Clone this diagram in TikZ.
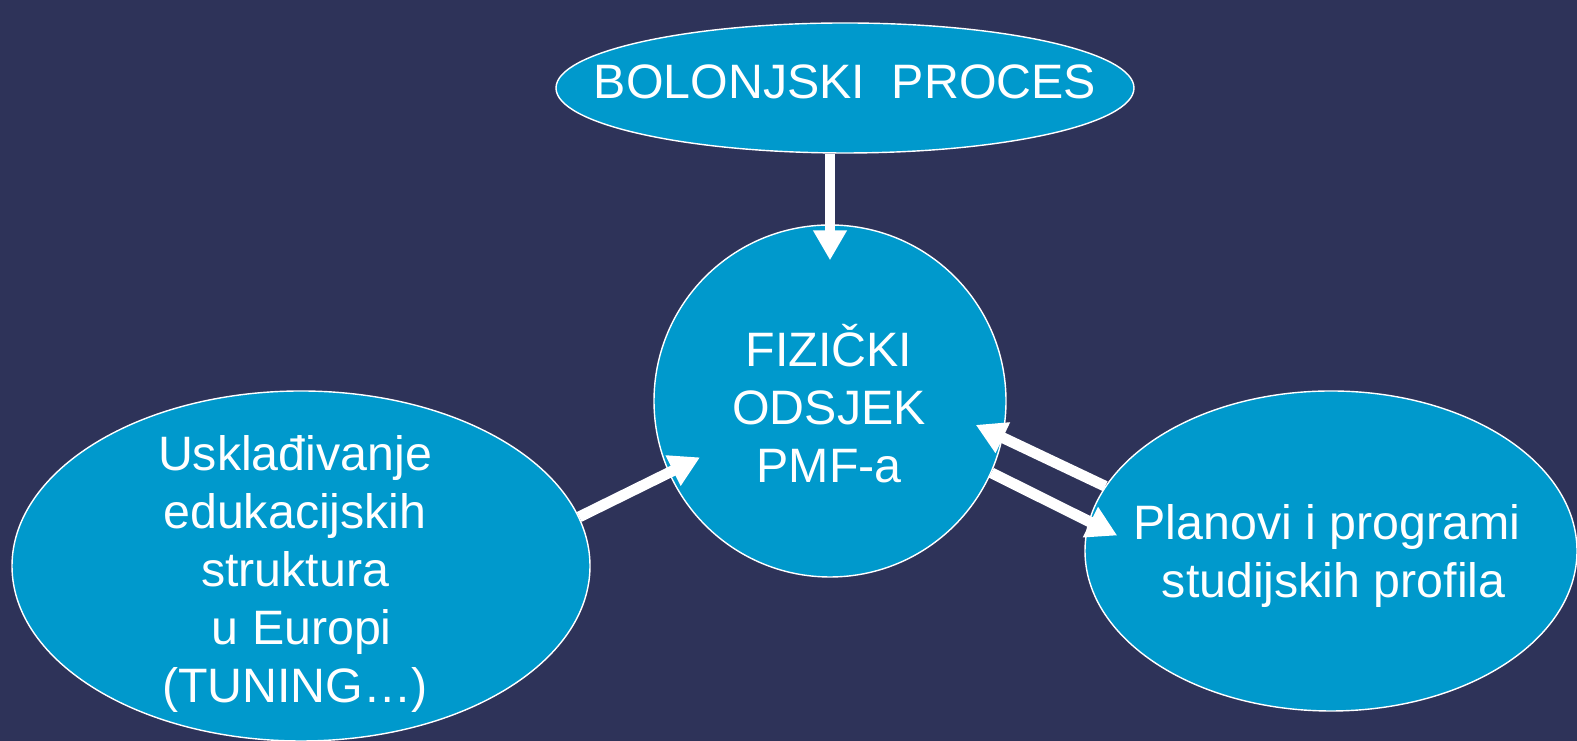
\documentclass[tikz,border=0pt]{standalone}
\usepackage{fontspec}
\setmainfont{Liberation Sans}
\usetikzlibrary{shapes.geometric,arrows.meta}
\definecolor{bgnavy}{RGB}{46,51,89}
\definecolor{blobblue}{RGB}{0,153,204}

\begin{document}
\begin{tikzpicture}[
    blob/.style={ellipse, draw=white, line width=0.8pt, fill=blobblue, inner sep=0pt},
    txt/.style={text=white, align=center, font=\fontsize{27.5}{33}\selectfont, inner sep=0pt},
    arr/.style={draw=white, line width=6.2pt, -{Triangle[length=6mm,width=6.4mm]}}
]
        % Background
        \fill[bgnavy] (0,0) rectangle (31.54,14.82);
        \useasboundingbox (0,0) rectangle (31.54,14.82);

        % Bolonjski proces
        \node[blob, minimum width=11.56cm, minimum height=2.6cm] (bol) at (16.9,13.06) {};
        \node[txt] (bol-t) at (16.9,13.18) {BOLONJSKI\ \ PROCES};

        % Fizicki odsjek
        \node[blob, circle, minimum size=7.04cm] (fiz) at (16.6,6.8) {};
        \node[txt] (fiz-t) at (16.58,6.74) {FIZIČKI\\ODSJEK\\PMF-a};

        % Uskladivanje
        \node[blob, minimum width=11.56cm, minimum height=7cm] (usk) at (6.02,3.5) {};
        \node[txt] (usk-t) at (5.9,3.34) {Usklađivanje\\edukacijskih\\struktura\\\hspace*{.28em}u Europi\\(TUNING…)};

        % Planovi i programi
        \node[blob, minimum width=9.84cm, minimum height=6.4cm] (pla) at (26.62,3.8) {};
        \node[txt] (pla-t) at (26.54,3.7) {Planovi i programi\\\hspace*{.28em}studijskih profila};

        % Arrows
        \draw[arr, shorten >=-0.72cm] (bol.south -| fiz.north) -- (fiz.north);
        \draw[arr, shorten >=-0.7cm] (usk.10) -- (fiz.204);
        \draw[arr, shorten >=-0.6cm] (pla.164) -- (fiz.348);
        \draw[arr, shorten >=-0.64cm] (fiz.336) -- (pla.173);
\end{tikzpicture}
\end{document}
